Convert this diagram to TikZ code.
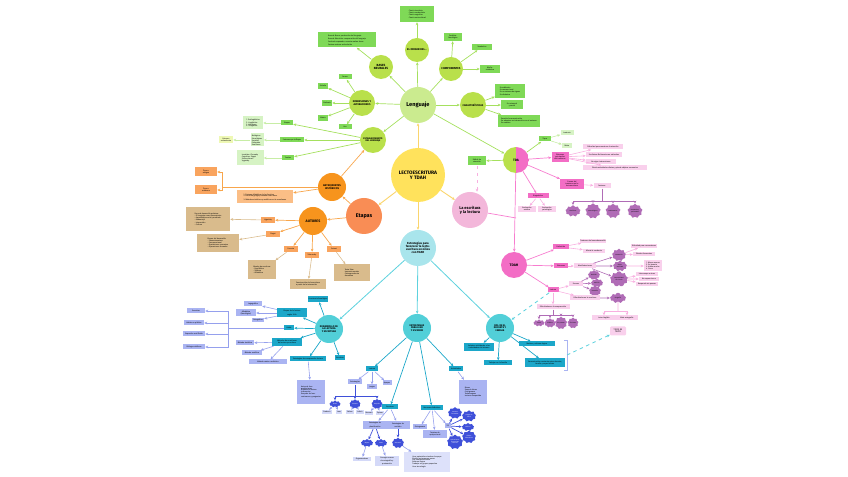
\documentclass[tikz,border=0pt]{standalone}
\usepackage{fontspec}
\setmainfont{Fira Sans}
\usetikzlibrary{arrows.meta,shapes.symbols,calc}
\definecolor{yelc}{HTML}{FFE25C}
\definecolor{ylnc}{HTML}{FAD56E}
\definecolor{lenc}{HTML}{CBEB8F}
\definecolor{limc}{HTML}{B9E04B}
\definecolor{gbxc}{HTML}{7FD957}
\definecolor{gltc}{HTML}{D6F3C4}
\definecolor{gylc}{HTML}{EEF8B4}
\definecolor{glnc}{HTML}{A5E05E}
\definecolor{orgc}{HTML}{F7941D}
\definecolor{ordc}{HTML}{F98D55}
\definecolor{obxc}{HTML}{F9A45E}
\definecolor{oltc}{HTML}{FBBE86}
\definecolor{bgec}{HTML}{D9BB8C}
\definecolor{olnc}{HTML}{F8A64C}
\definecolor{pnkc}{HTML}{F3B7DA}
\definecolor{magc}{HTML}{F36DC5}
\definecolor{pltc}{HTML}{F9D0EC}
\definecolor{purc}{HTML}{B06CB6}
\definecolor{plnc}{HTML}{F77DCF}
\definecolor{cyac}{HTML}{A9E5EC}
\definecolor{telc}{HTML}{52CFD8}
\definecolor{tbxc}{HTML}{1CA7C9}
\definecolor{lblc}{HTML}{AAB4F2}
\definecolor{dblc}{HTML}{3F50D9}
\definecolor{clnc}{HTML}{5ED2DE}
\newcommand\fsz[1]{\fontsize{#1}{#1}\selectfont}

\begin{document}
\begin{tikzpicture}[x=0.3mm, y=-0.3mm,
  dia/.style={minimum size={#1*0.3mm}},
  sz/.style 2 args={minimum width={#1*0.3mm}, minimum height={#2*0.3mm}},
  circ/.style={circle, inner sep=0pt, align=center, font=\fsz{2.6}\bfseries},
  bx/.style={inner sep=0.4pt, align=center, font=\fsz{1.6}},
  gbox/.style={bx, fill=gbxc},
  glt/.style={bx, fill=gltc, align=left},
  obox/.style={bx, fill=obxc},
  beige/.style={bx, fill=bgec, align=left},
  pbox/.style={bx, fill=magc},
  plt/.style={bx, fill=pltc},
  tbox/.style={bx, fill=tbxc},
  lbox/.style={bx, fill=lblc},
  pcloud/.style={cloud, cloud puffs=9, fill=purc, inner sep=0pt, font=\fsz{1.3}, align=center},
  bcloud/.style={cloud, cloud puffs=9, fill=dblc, inner sep=0pt, font=\fsz{1.3}, text=white, align=center},
  tip/.style={-{Stealth[length=0.9mm,width=0.8mm]}},
  yarr/.style={tip, draw=ylnc, line width=0.8pt},
  garr/.style={tip, draw=glnc, line width=0.6pt},
  glarr/.style={tip, draw=gltc!70!glnc, line width=0.5pt},
  oarr/.style={tip, draw=olnc, line width=0.6pt},
  barr/.style={tip, draw=bgec, line width=0.5pt},
  parr/.style={tip, draw=plnc, line width=0.6pt},
  plarr/.style={tip, draw=pltc!60!plnc, line width=0.5pt},
  purarr/.style={tip, draw=purc, line width=0.5pt},
  carr/.style={tip, draw=clnc, line width=0.7pt},
  tarr/.style={tip, draw=tbxc, line width=0.6pt},
  larr/.style={tip, draw=lblc!80!dblc, line width=0.5pt},
  darr/.style={tip, draw=dblc, line width=0.6pt}
]
\useasboundingbox (0,0) rectangle (848,477);

% centre
\node[circ, dia=54, fill=yelc, font=\fsz{4.2}\bfseries] (lec) at (418,175) {LECTOESCRITURA\\Y TDAH};

% lenguaje
\node[circ, dia=36, fill=lenc, font=\fsz{4.8}\bfseries] (len) at (418,105) {Lenguaje};
\node[circ, dia=24, fill=limc, font=\fsz{2.3}\bfseries] (ori) at (417,50) {EL ORIGEN DEL...};
\node[circ, dia=24, fill=limc] (bas) at (381,67) {BASES\\NEURALES};
\node[circ, dia=24, fill=limc, font=\fsz{2.4}\bfseries] (com) at (451,69) {COMPONENTES};
\node[circ, dia=26, fill=limc, font=\fsz{2.2}\bfseries] (car) at (473,105) {CARACTERÍSTICAS};
\node[circ, dia=26, fill=limc, font=\fsz{2.2}\bfseries] (dim) at (362,103) {DIMENSIONES Y\\ALTERACIONES};
\node[circ, dia=26, fill=limc, font=\fsz{2}\bfseries] (est) at (373,140) {ESTABLECIMIENTO\\DEL LENGUAJE};

\node[gbox, sz={34}{16}, align=left] (oribx) at (417,14) {- Teoría innatista\\- Teoría conductista\\- Teoría cognitiva\\- Teoría sociocultural};
\node[gbox, sz={58}{15}, align=left] (basbx) at (347,40) {Área de Broca: producción del lenguaje\\Área de Wernicke: comprensión del lenguaje\\Fascículo arqueado: conecta ambas áreas\\Corteza motora: articulación};
\node[gbox, sz={18}{8}] (com1) at (453,37) {Fonético-\\fonológico};
\node[gbox, sz={20}{6}] (com2) at (482,47) {Semántico};
\node[gbox, sz={20}{8}] (com3) at (490,69) {Morfo-\\sintáctico};
\node[gbox, sz={30}{14}, align=left] (car1) at (510,91) {Es arbitrario\\Es convencional\\Es un sistema de signos\\Es dinámico};
\node[gbox, sz={22}{9}] (car2) at (512,105) {Es universal\\y social};
\node[gbox, sz={42}{12}, align=left] (car3) at (519,121) {Permite la comunicación\\Se adquiere en interacción con el entorno\\Es creativo};
\node[gbox, sz={13}{5}] (dim1) at (345,77) {Forma};
\node[gbox, sz={10}{6}] (dim2) at (323,86) {Dislalia};
\node[gbox, sz={10}{6}] (dim3) at (327,103) {Disfemia};
\node[gbox, sz={10}{6}] (dim4) at (323,118) {Afasia};
\node[gbox, sz={13}{5}] (dim5) at (345,127) {Uso};
\node[gbox, sz={12}{5}] (est1) at (287,123) {Etapas};
\node[glt, sz={20}{13}] (est1l) at (253,123) {1. Prelingüística\\2. Lingüística\\3. Holofrase\\4. Telegráfica};
\node[gbox, sz={24}{5}] (est2) at (292,140) {Factores que influyen};
\node[glt, sz={13}{13}] (est2l) at (257,140) {Biológicos\\Psicológicos\\Sociales\\Culturales\\Familiares};
\node[bx, fill=gylc, sz={14}{7}] (est2y) at (226,140) {Entorno\\estimulante};
\node[gbox, sz={12}{5}] (est3) at (288,158) {Teorías};
\node[glt, sz={27}{15}] (est3l) at (250,158) {Innatista: Chomsky\\Cognitiva: Piaget\\Sociocultural:\\Vygotsky};

\draw[yarr] (lec) -- (len);
\foreach \s in {ori,bas,com,car,dim,est} \draw[garr] (len) -- (\s);
\draw[garr] (ori) -- (oribx);
\draw[garr] (bas) -- (basbx);
\foreach \b in {com1,com2,com3} \draw[garr] (com) -- (\b);
\foreach \b in {car1,car2,car3} \draw[garr] (car) -- (\b);
\foreach \b in {dim1,dim2,dim3,dim4,dim5} \draw[garr] (dim) -- (\b);
\foreach \b in {est1,est2,est3} \draw[garr] (est) -- (\b);
\draw[glarr] (est1) -- (est1l);
\draw[glarr] (est2) -- (est2l);
\draw[glarr] (est2l) -- (est2y);
\draw[glarr] (est3) -- (est3l);

% etapas y autores
\node[circ, dia=36, fill=ordc, font=\fsz{4.6}\bfseries] (eta) at (364,216) {Etapas};
\node[circ, dia=28, fill=orgc, font=\fsz{2.2}\bfseries] (ant) at (332,187) {ANTECEDENTES\\HISTÓRICOS};
\node[circ, dia=28, fill=orgc, font=\fsz{3}\bfseries] (aut) at (313,221) {AUTORES};
\node[obox, sz={22}{9}] (ant1) at (206,172) {Época\\antigua};
\node[obox, sz={22}{9}] (ant2) at (206,190) {Época\\moderna};
\node[bx, fill=oltc, sz={56}{13}, align=left] (ant3) at (265,197) {1. Sistema alfabético de los fenicios.\\2. Escritura griega y romana como base.\\3. Métodos sintéticos y analíticos en la enseñanza.};
\coordinate (antj) at (222,187);
\node[obox, sz={14}{6}] (a1) at (268,220) {Vygotsky};
\node[obox, sz={14}{6}] (a2) at (273,234) {Piaget};
\node[obox, sz={14}{6}] (a3) at (291,249) {Ferreiro};
\node[obox, sz={14}{6}] (a4) at (312,255) {Teberosky};
\node[obox, sz={14}{6}] (a5) at (334,249) {Freinet};
\node[beige, sz={44}{24}] (a1b) at (208,219) {Zona de desarrollo próximo:\\- El lenguaje como herramienta\\- Aprendizaje social y mediado\\- Andamiaje\\- Interacción\\- Cultura};
\node[beige, sz={42}{18}] (a2b) at (218,243) {Etapas del desarrollo:\\- Sensoriomotora\\- Preoperacional\\- Operaciones concretas\\- Operaciones formales};
\node[beige, sz={28}{19}] (a3b) at (262,270) {Niveles de escritura:\\- Presilábico\\- Silábico\\- Alfabético};
\node[beige, sz={36}{10}] (a4b) at (308,284) {Construcción de la escritura\\a partir de la interacción};
\node[beige, sz={36}{17}] (a5b) at (352,273) {Texto libre\\Imprenta escolar\\Correspondencia\\Asamblea};

\draw[yarr] (lec) -- (eta);
\draw[oarr] (eta) -- (ant);
\draw[oarr] (eta) -- (aut);
\draw[oarr] (ant) -- (est);
\draw[olnc, line width=0.6pt] (ant) -- (antj);
\draw[oarr] (antj) |- (ant1);
\draw[oarr] (antj) |- (ant2);
\draw[oarr] (ant) -- (ant3);
\foreach \a in {a1,a2,a3,a4,a5} {
  \draw[oarr] (aut) -- (\a);
  \draw[barr] (\a) -- (\a b);
}

% TDA
\node[circle, dia=26, inner sep=0pt, font=\fsz{2.8}\bfseries,
  path picture={\fill[limc] (path picture bounding box.south west) rectangle (path picture bounding box.north);
    \fill[magc] (path picture bounding box.south) rectangle (path picture bounding box.north east);}] (tda) at (516,160) {TDA};
\node[gbox, sz={18}{9}] (tdag) at (477,161) {Déficit de\\atención};
\node[circ, dia=36, fill=pnkc, font=\fsz{3.4}\bfseries] (lae) at (470,210) {La escritura\\y la lectura};
\node[circ, dia=26, fill=magc, font=\fsz{3}\bfseries] (tdh) at (514,265) {TDAH};
\coordinate (laej) at (516,218);
\node[gbox, sz={12}{5}] (tt1) at (545,139) {Tipos};
\node[glt, sz={13}{5}, align=center] (tt1a) at (567,133) {Inatento};
\node[glt, sz={10}{5}, align=center] (tt1b) at (567,146) {Mixto};
\node[pbox, sz={17}{10}] (tp2) at (560,157) {Síntomas\\principales\\del trastorno};
\node[plt, sz={40}{5}] (tp2a) at (603,147) {Dificultad para mantener la atención};
\node[plt, sz={36}{5}] (tp2b) at (604,155) {Se distrae fácilmente con estímulos};
\node[plt, sz={30}{5}] (tp2c) at (601,162) {No sigue instrucciones};
\node[plt, sz={64}{5}] (tp2d) at (615,168) {Olvida actividades diarias y pierde objetos necesarios};
\node[pbox, sz={24}{10}] (tp3) at (572,184) {Causas del\\trastorno en la\\lectoescritura};
\node[plt, sz={17}{5}] (tp3a) at (602,186) {Factores:};
\coordinate (tpj) at (602,201);
\node[pcloud, sz={15}{9}] (pc1) at (573,211) {Genéticos};
\node[pcloud, sz={15}{9}] (pc2) at (593,211) {Neurológicos};
\node[pcloud, sz={15}{9}] (pc3) at (613,211) {Ambientales};
\node[pcloud, sz={15}{9}] (pc4) at (635,211) {Prenatales y\\perinatales};
\node[pbox, sz={21}{5}] (tp4) at (538,196) {Diagnóstico};
\node[plt, sz={18}{6}] (tp4a) at (527,209) {Evaluación\\médica};
\node[plt, sz={18}{6}] (tp4b) at (547,209) {Evaluación\\psicológica};

\draw[yarr] (lec) -- (lae);
\draw[garr] (len) -- (tda);
\draw[garr] (tda) -- (tdag);
\draw[plarr, dashed] (tdag) -- (tdag|-lae.north);
\draw[plnc, line width=0.6pt] (lae) -- (laej);
\draw[parr] (tda) -- (tdh);
\draw[garr] (tda) -- (tt1);
\draw[glarr] (tt1) -- (tt1a);
\draw[glarr] (tt1) -- (tt1b);
\foreach \b in {tp2,tp3,tp4} \draw[parr] (tda) -- (\b);
\foreach \b in {tp2a,tp2b,tp2c,tp2d} \draw[plarr] (tp2) -- (\b);
\draw[plarr] (tp3) -- (tp3a);
\draw[purc, line width=0.5pt] (tp3a) -- (tpj);
\foreach \c in {pc1,pc2,pc3,pc4} \draw[purarr] (tpj) -| (\c);
\draw[plarr] (tp4) -- (tp4a);
\draw[plarr] (tp4) -- (tp4b);

% TDAH
\node[pbox, sz={16}{5}] (th1) at (561,247) {Definición};
\node[plt, sz={22}{4}] (th1a) at (593,241) {Trastorno del neurodesarrollo};
\node[plt, sz={22}{4}] (th1b) at (594,251) {Afecta la conducta};
\node[pbox, sz={14}{5}] (th2) at (561,266) {Síntomas};
\node[plt, sz={22}{5}] (th2a) at (585,266) {Manifestaciones};
\node[pcloud, sz={14}{8}] (tc1) at (619,255) {Inatención};
\node[pcloud, sz={14}{8}] (tc2) at (620,266) {Hiper-\\actividad};
\node[pcloud, sz={18}{10}] (tc3) at (619,279) {Impulsividad\\en el aula};
\node[plt, sz={26}{4}] (tc1a) at (644,246) {Dificultad para concentrarse};
\node[plt, sz={22}{4}] (tc1b) at (644,254) {Olvidos frecuentes};
\node[plt, sz={18}{11}, align=left] (tc2a) at (653,266) {1. Mueve manos\\2. Se levanta\\3. Habla mucho\\4. Corre};
\node[plt, sz={22}{4}] (tc3a) at (647,274) {Interrumpe a otros};
\node[plt, sz={20}{4}] (tc3b) at (649,279) {No espera turno};
\node[plt, sz={22}{4}] (tc3c) at (647,284) {Responde sin pensar};
\node[pbox, sz={11}{5}] (th3) at (553,290) {Lectura};
\node[plt, sz={14}{5}] (th3a) at (576,284) {Errores};
\node[pcloud, sz={12}{7}] (tc4) at (594,275) {Omisión};
\node[pcloud, sz={12}{7}] (tc5) at (597,283) {Adición};
\node[pcloud, sz={12}{7}] (tc6) at (595,291) {Inversión};
\node[plt, sz={30}{5}] (th4) at (585,298) {Dificultades en la escritura};
\node[pcloud, sz={16}{8}] (tc7) at (618,298) {Disgrafía};
\coordinate (th4j) at (618,311);
\node[plt, sz={25}{5}] (tc7a) at (604,318) {Letra ilegible};
\node[plt, sz={22}{5}] (tc7b) at (627,318) {Mala ortografía};
\node[plt, sz={33}{5}] (th5) at (553,307) {Dificultades en la comprensión};
\coordinate (th5j) at (553,315);
\node[pcloud, sz={11}{7}] (tc8) at (539,323) {Lenta};
\node[pcloud, sz={11}{7}] (tc9) at (550,323) {Silábica};
\node[pcloud, sz={11}{7}] (tc10) at (561,323) {Sin pausas};
\node[pcloud, sz={11}{7}] (tc11) at (573,323) {Sin ritmo};
\node[bx, fill=pltc, rounded corners=1pt, sz={16}{9}, font=\fsz{1.8}] (txt) at (618,331) {TIPOS DE\\TEXTO};

\foreach \b in {th1,th2,th3} \draw[parr] (tdh) -- (\b);
\draw[plarr] (th1) -- (th1a);
\draw[plarr] (th1) -- (th1b);
\draw[plarr] (th2) -- (th2a);
\foreach \c in {tc1,tc2,tc3} \draw[purarr] (th2a) -- (\c);
\draw[plarr] (tc1) -- (tc1a);
\draw[plarr] (tc1) -- (tc1b);
\draw[plarr] (tc2) -- (tc2a);
\foreach \b in {tc3a,tc3b,tc3c} \draw[plarr] (tc3) -- (\b);
\draw[plarr] (th3) -- (th3a);
\foreach \c in {tc4,tc5,tc6} \draw[purarr] (th3a) -- (\c);
\draw[plarr] (th3) -- (th4);
\draw[purarr] (th4) -- (tc7);
\draw[pltc!60!plnc, line width=0.5pt] (tc7) -- (th4j);
\draw[plarr] (th4j) -| (tc7a);
\draw[plarr] (th4j) -| (tc7b);
\draw[plarr] (th3) -- (th5);
\draw[purc, line width=0.5pt] (th5) -- (th5j);
\foreach \c in {tc8,tc9,tc10,tc11} \draw[purarr] (th5j) -| (\c);

% estrategias
\node[circ, dia=36, fill=cyac, font=\fsz{2.5}\bfseries] (stg) at (418,248) {Estrategias para\\favorecer la lecto-\\escritura en niños\\con TDAH};
\node[circ, dia=28, fill=telc, font=\fsz{2.1}\bfseries] (dev) at (329,329) {DESARROLLO DE\\LA LECTURA\\Y ESCRITURA};
\node[circ, dia=28, fill=telc, font=\fsz{2.1}\bfseries] (str) at (417,328) {ESTRATEGIAS\\PARA LEER\\Y ESCRIBIR};
\node[circ, dia=28, fill=telc, font=\fsz{2.1}\bfseries] (rol) at (500,328) {ROL DE EL\\DOCENTE Y\\FAMILIA};
\draw[yarr] (lec) -- (stg);
\foreach \c in {dev,str,rol} \draw[carr] (stg) -- (\c);
\draw[carr, dashed] (th3) -- (rol);

% desarrollo
\node[tbox, sz={20}{6}] (d1) at (318,299) {Conciencia fonológica};
\node[tbox, sz={30}{9}] (d2) at (292,313) {Etapas de la lectura\\según Frith};
\node[lbox, sz={18}{5}] (d2a) at (253,304) {Logográfica};
\node[lbox, sz={20}{7}] (d2b) at (246,313) {Alfabética\\(fonológica)};
\node[lbox, sz={12}{4}] (d2c) at (258,320) {Ortográfica};
\node[tbox, sz={10}{5}] (d3) at (289,328) {Habla};
\coordinate (d3j) at (228,328);
\node[lbox, sz={18}{5}] (dl1) at (196,311) {Escuchar};
\node[lbox, sz={20}{5}] (dl2) at (194,323) {Hablar en público};
\node[lbox, sz={22}{5}] (dl3) at (194,334) {Expresión oral fluida};
\node[lbox, sz={22}{5}] (dl4) at (194,347) {Diálogo cotidiano};
\node[tbox, sz={30}{8}] (d4) at (287,342) {Métodos de enseñanza\\de lectura y escritura};
\node[lbox, sz={18}{5}] (d4a) at (245,343) {Método sintético};
\node[lbox, sz={20}{5}] (d4b) at (252,353) {Método analítico};
\node[lbox, sz={38}{5}] (d4c) at (268,362) {Método mixto o ecléctico};
\node[tbox, sz={10}{5}] (d5) at (340,358) {Escritura};
\node[tbox, sz={36}{5}] (d6) at (308,359) {Estrategias de comprensión lectora};
\node[lbox, sz={28}{24}, align=left] (d6a) at (311,392) {Antes de leer:\\predicciones\\Durante la lectura:\\inferencias\\Después de leer:\\resúmenes y preguntas};
\foreach \b in {d1,d2,d3,d4,d5,d6} \draw[tarr] (dev) -- (\b);
\foreach \b in {d2a,d2b,d2c} \draw[larr] (d2) -- (\b);
\draw[lblc!80!dblc, line width=0.5pt] (d3) -- (d3j);
\foreach \b in {dl1,dl2,dl3,dl4} \draw[larr] (d3j) |- (\b);
\foreach \b in {d4a,d4b,d4c} \draw[larr] (d4) -- (\b);
\draw[larr] (d6) -- (d6a);

% estrategias para leer y escribir
\node[tbox, sz={12}{5}] (s1) at (372,369) {Lectura};
\node[lbox, sz={14}{5}] (s1a) at (355,382) {Estrategias};
\node[lbox, sz={10}{5}] (s1b) at (372,387) {Juegos};
\node[lbox, sz={9}{5}] (s1c) at (387,383) {Apoyos};
\coordinate (s1j) at (355,396);
\node[bcloud, sz={11}{7}] (sc1) at (335,404) {Antes};
\node[bcloud, sz={11}{7}] (sc2) at (355,404) {Durante};
\node[bcloud, sz={11}{7}] (sc3) at (377,404) {Después};
\node[lbox, fill=lblc!50, sz={10}{4}] (sb1) at (327,412) {Predecir};
\node[lbox, fill=lblc!50, sz={6}{4}] (sb2) at (339,412) {Leer};
\node[lbox, fill=lblc!50, sz={8}{4}] (sb3) at (350,412) {Releer};
\node[lbox, fill=lblc!50, sz={8}{4}] (sb4) at (360,412) {Inferir};
\node[lbox, fill=lblc!50, sz={8}{4}] (sb5) at (369,413) {Resumir};
\node[lbox, fill=lblc!50, sz={8}{4}] (sb6) at (380,413) {Opinar};
\node[tbox, sz={16}{5}] (s2) at (390,407) {Escritura};
\node[lbox, sz={24}{8}] (s2a) at (375,425) {Estrategias de\\planificación};
\node[lbox, sz={24}{8}] (s2b) at (398,425) {Estrategias de\\revisión};
\node[bcloud, sz={12}{8}] (sc4) at (367,443) {Mapas};
\node[bcloud, sz={12}{8}] (sc5) at (381,443) {Listas};
\node[bcloud, sz={12}{8}] (sc6) at (398,443) {Borrador};
\node[lbox, fill=lblc!50, sz={18}{4}] (s2c) at (362,459) {Organizadores};
\node[lbox, fill=lblc!50, sz={24}{10}] (s2d) at (387,461) {Corregir errores\\de ortografía y\\puntuación};
\node[lbox, fill=lblc!40, sz={46}{20}, align=left] (s2e) at (427,462) {Usar materiales visuales de apoyo\\Dividir las tareas en pasos\\Dar tiempo adicional\\Reforzar logros\\Trabajar en grupos pequeños\\Usar tecnología};
\node[tbox, sz={22}{5}] (s3) at (432,408) {Recursos didácticos};
\node[lbox, sz={14}{5}] (s3a) at (420,427) {Pictogramas};
\node[lbox, sz={24}{8}] (s3b) at (435,434) {Tarjetas de\\apoyo visual};
\node[lbox, sz={6}{5}] (s3c) at (448,426) {TIC};
\node[bcloud, sz={14}{9}] (sc7) at (455,413) {Cuentos\\ilustrados};
\node[bcloud, sz={14}{9}] (sc8) at (469,416) {Juegos de\\mesa};
\node[bcloud, sz={12}{8}] (sc9) at (468,427) {Música};
\node[bcloud, sz={14}{9}] (sc10) at (469,437) {Videos\\educativos};
\node[bcloud, sz={16}{11}] (sc11) at (455,442) {Aplicaciones\\interactivas\\para leer};
\node[tbox, sz={14}{5}] (s4) at (456,369) {Actividades};
\node[lbox, sz={28}{24}, align=left] (s4a) at (473,392) {Rimas\\Sopa de letras\\Crucigramas\\Trabalenguas\\Lectura compartida};

\foreach \b in {s1,s2,s3,s4} \draw[tarr] (str) -- (\b);
\foreach \b in {s1a,s1b,s1c} \draw[larr] (s1) -- (\b);
\draw[dblc, line width=0.6pt] (s1a) -- (s1j);
\foreach \c in {sc1,sc2,sc3} \draw[darr] (s1j) -| (\c);
\draw[larr] (sc1) -- (sb1);
\draw[larr] (sc1) -- (sb2);
\draw[larr] (sc2) -- (sb3);
\draw[larr] (sc2) -- (sb4);
\draw[larr] (sc3) -- (sb5);
\draw[larr] (sc3) -- (sb6);
\draw[larr] (s2) -- (s2a);
\draw[larr] (s2) -- (s2b);
\draw[darr] (s2a) -- (sc4);
\draw[darr] (s2a) -- (sc5);
\draw[darr] (s2b) -- (sc6);
\draw[larr] (sc4) -- (s2c);
\draw[larr] (sc5) -- (s2d);
\draw[larr] (sc6) -- (s2e);
\foreach \b in {s3a,s3b,s3c} \draw[larr] (s3) -- (\b);
\foreach \c in {sc7,sc8,sc9,sc10,sc11} \draw[darr] (s3c) -- (\c);
\draw[larr] (s4) -- (s4a);

% rol
\node[tbox, sz={30}{8}] (r1) at (479,347) {Adaptar actividades a las\\necesidades del alumno};
\node[tbox, sz={28}{5}] (r2) at (498,363) {Trabajo con la familia};
\node[tbox, sz={36}{5}] (r3) at (537,344) {Motivar y reforzar logros};
\node[tbox, sz={40}{9}] (r4) at (545,363) {Comunicación constante entre docente,\\familia y especialistas};
\coordinate (rolj) at (567,355);
\foreach \b in {r1,r2,r3,r4} \draw[tarr] (rol) -- (\b);
\draw[lblc, line width=0.5pt] ($(rolj)+(-3,-15)$) -- ($(rolj)+(0,-15)$) -- ($(rolj)+(0,15)$) -- ($(rolj)+(-3,15)$);
\draw[carr, dashed] (rolj) -- (txt);
\end{tikzpicture}
\end{document}
